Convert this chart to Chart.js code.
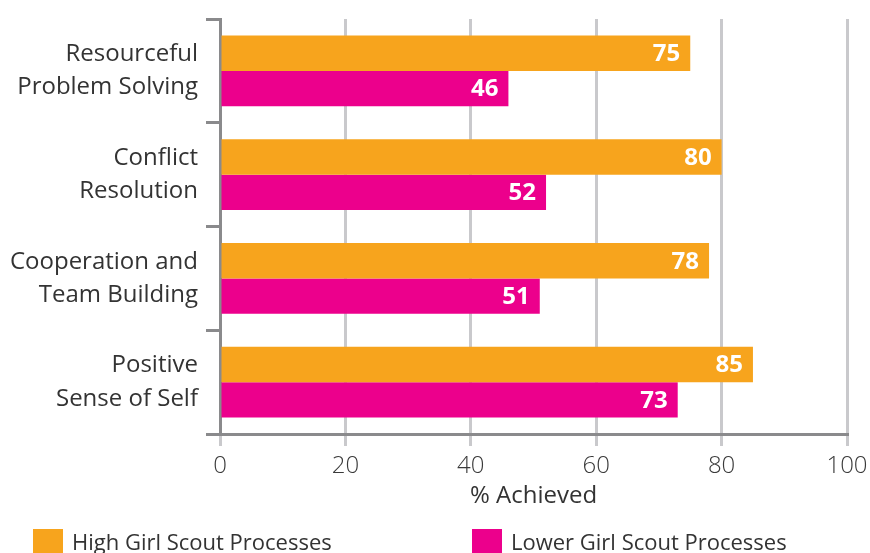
<!DOCTYPE html>
<html>
<head>
<meta charset="utf-8">
<script src="https://cdn.jsdelivr.net/npm/chart.js@4/dist/chart.umd.min.js"></script>
<style>
  html, body { margin: 0; padding: 0; background: #fff; }
  #wrap { width: 870px; height: 553px; }
</style>
</head>
<body>
<div id="wrap"><canvas id="myChart" width="870" height="553"></canvas></div>
<script>
// data
const categories = [
    ['Resourceful', 'Problem Solving'],
    ['Conflict', 'Resolution'],
    ['Cooperation and', 'Team Building'],
    ['Positive', 'Sense of Self']
];
const highValues = [75, 80, 78, 85];
const lowerValues = [46, 52, 51, 73];
const seriesNames = ['High Girl Scout Processes', 'Lower Girl Scout Processes'];
const xTicks = [0, 20, 40, 60, 80, 100];

const ORANGE = '#F7A41D';
const PINK = '#EC008C';
const FONT = "'Open Sans', 'Lato', sans-serif";

// white value labels at the end of each bar
const valueLabels = {
    id: 'valueLabels',
    afterDatasetsDraw(chart) {
        const ctx = chart.ctx;
        ctx.save();
        ctx.fillStyle = '#fff';
        ctx.font = 'bold 24px ' + FONT;
        ctx.textAlign = 'right';
        ctx.textBaseline = 'middle';
        chart.data.datasets.forEach((ds, i) => {
            chart.getDatasetMeta(i).data.forEach((bar, j) => {
                ctx.fillText(ds.data[j], bar.x - 10, bar.y + 1);
            });
        });
        ctx.restore();
    }
};

// legend at the bottom, two items spread apart
const bottomLegend = {
    id: 'bottomLegend',
    afterDraw(chart) {
        const ctx = chart.ctx;
        const xs = [33, 472];
        const y = 529;
        ctx.save();
        ctx.font = '22px ' + FONT;
        ctx.textBaseline = 'middle';
        chart.data.datasets.forEach((ds, i) => {
            ctx.fillStyle = ds.backgroundColor;
            ctx.fillRect(xs[i], y, 30, 26);
            ctx.fillStyle = '#333';
            ctx.fillText(ds.label, xs[i] + 39, y + 15);
        });
        ctx.restore();
    }
};

const config = {
    type: 'bar',
    data: {
        labels: categories,
        datasets: [
            { label: seriesNames[0], data: highValues, backgroundColor: ORANGE },
            { label: seriesNames[1], data: lowerValues, backgroundColor: PINK }
        ]
    },
    options: {
        indexAxis: 'y',
        responsive: false,
        animation: false,
        layout: { padding: { top: 19, right: 0, bottom: 34, left: 0 } },
        datasets: {
            bar: { categoryPercentage: 0.68, barPercentage: 1.0, borderWidth: 0 }
        },
        plugins: {
            legend: { display: false },
            tooltip: { enabled: false }
        },
        scales: {
            x: {
                min: 0,
                max: 100,
                afterBuildTicks: (scale) => { scale.ticks = xTicks.map(v => ({ value: v })); },
                afterFit: (scale) => {
                    scale.height = 85;
                    scale.paddingRight = 23;
                    scale.paddingLeft = 0;
                },
                border: { display: true, color: '#8a8a8c', width: 3 },
                grid: { color: '#c9c9cc', lineWidth: 3, tickLength: 12, drawTicks: true },
                ticks: {
                    color: '#3a3a3a',
                    padding: 6,
                    font: { family: FONT, size: 24, weight: 300 }
                },
                title: {
                    display: true,
                    text: '% Achieved',
                    color: '#333',
                    padding: { top: 0, bottom: 8 },
                    font: { family: FONT, size: 24 }
                }
            },
            y: {
                afterFit: (scale) => {
                    scale.width = 220;
                    scale.paddingTop = 0;
                    scale.paddingBottom = 0;
                },
                border: { display: true, color: '#8a8a8c', width: 3 },
                grid: {
                    offset: true,
                    drawOnChartArea: false,
                    drawTicks: true,
                    tickLength: 14,
                    color: '#8a8a8c',
                    lineWidth: 3
                },
                ticks: {
                    color: '#333',
                    padding: 8,
                    font: { family: FONT, size: 24, lineHeight: 1.38 }
                }
            }
        }
    },
    plugins: [valueLabels, bottomLegend]
};

new Chart(document.getElementById('myChart'), config);
</script>
</body>
</html>
